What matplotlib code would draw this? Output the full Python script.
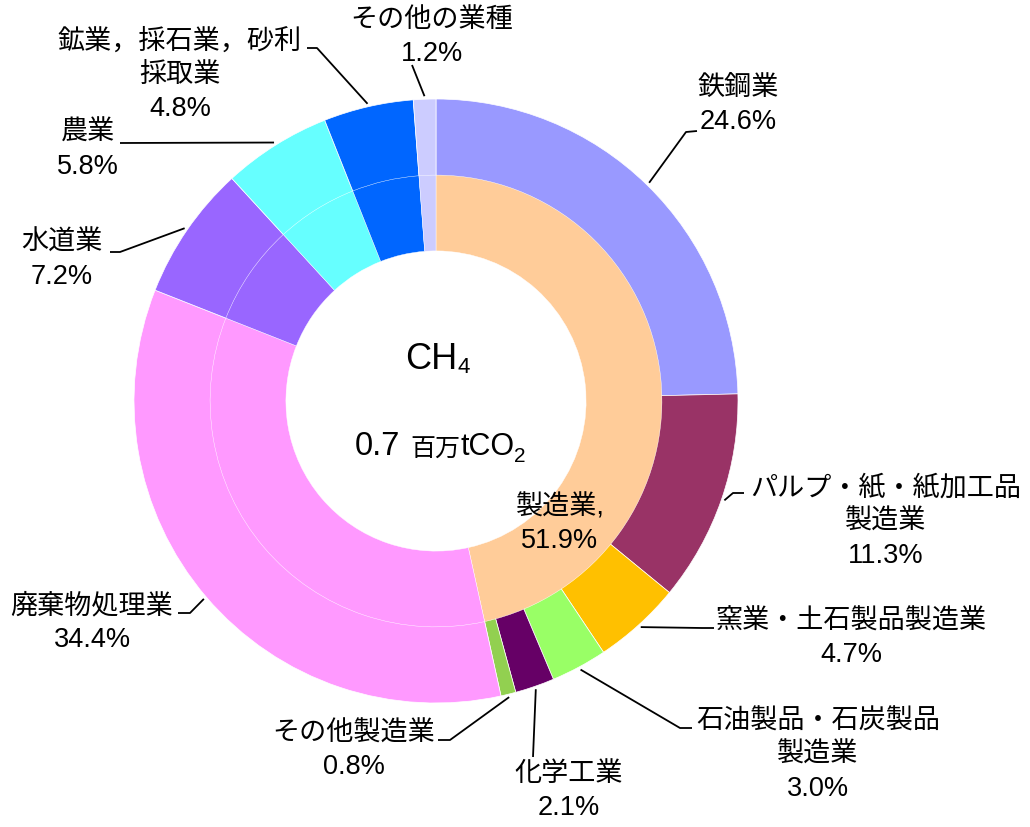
import numpy as np
import matplotlib
matplotlib.use("Agg")
import matplotlib.pyplot as plt

plt.rcParams['font.family'] = ['Liberation Sans', 'Noto Sans CJK JP', 'DejaVu Sans']

# ---------------- data ----------------
outer_names = ["鉄鋼業", "パルプ・紙・紙加工品\n製造業", "窯業・土石製品製造業",
               "石油製品・石炭製品\n製造業", "化学工業", "その他製造業",
               "廃棄物処理業", "水道業", "農業", "鉱業，採石業，砂利\n採取業", "その他の業種"]
outer_values = [24.6, 11.3, 4.7, 3.0, 2.1, 0.8, 34.4, 7.2, 5.8, 4.8, 1.2]
outer_colors = ["#9999FF", "#993366", "#FFC000", "#99FF66", "#660066", "#92D050",
                "#FF99FF", "#9966FF", "#66FFFF", "#0066FF", "#CCCCFF"]

n_manuf = 6
inner_names = ["製造業"] + outer_names[n_manuf:]
inner_values = [sum(outer_values[:n_manuf])] + outer_values[n_manuf:]
inner_colors = ["#FFCC99"] + outer_colors[n_manuf:]
manuf_share_label = "51.9%"

center_title = "CH"
center_title_sub = "4"
total_value = "0.7"
total_unit = "百万"
total_unit2 = "tCO"
total_unit_sub = "2"

# ---------------- layout (pixels) ----------------
W, H = 1030, 827
CX, CY = 436, 401
S = 302.0

def P(x, y):
    return ((x - CX) / S, (CY - y) / S)

# label block centers and leader path (points after the anchor)
label_pos = [(738, 105), (886, 522), (851, 638), (818, 755), (569, 791), (354, 750),
             (92, 623), (62, 260), (88, 150), (180, 75), (432, 37)]
leader_path = [
    [(686, 132), (697, 131)],
    [(733, 493), (744, 493)],
    [(702, 628), (714, 628)],
    [(680, 728), (692, 728)],
    [(533, 757)],
    [(450, 740), (438, 740)],
    [(190, 613), (178, 613)],
    [(120, 252), (110, 252)],
    [(120, 143)],
    [(317, 48), (307, 48)],
    [(412, 65)],
]

fig = plt.figure(figsize=(W / 100, H / 100), dpi=100)
ax = fig.add_axes([0, 0, 1, 1])

ax.pie(outer_values, radius=1.0, colors=outer_colors, startangle=90, counterclock=False,
       wedgeprops=dict(width=0.255, edgecolor='white', linewidth=0.5))
ax.pie(inner_values, radius=0.748, colors=inner_colors, startangle=90, counterclock=False,
       wedgeprops=dict(width=0.251, edgecolor='white', linewidth=0.3))

ax.set_xlim(-CX / S, (W - CX) / S)
ax.set_ylim(-(H - CY) / S, CY / S)
ax.set_aspect('auto')
ax.axis('off')

FS = 19.5
LS = 1.38
vals = np.array(outer_values, dtype=float)
cum = np.cumsum(vals) / vals.sum()
mids = 90 - 360 * (cum - vals / vals.sum() / 2)
for i, (name, v) in enumerate(zip(outer_names, outer_values)):
    a = np.deg2rad(mids[i])
    r = 1.01
    pts = [(r * np.cos(a), r * np.sin(a))] + [P(*p) for p in leader_path[i]]
    xs, ys = zip(*pts)
    ax.plot(xs, ys, color='black', lw=1.3, solid_capstyle='butt')
    tx, ty = P(*label_pos[i])
    ax.text(tx, ty, f"{name}\n{v:.1f}%", ha='center', va='center', fontsize=FS,
            linespacing=LS, color='black')

# inner manufacturing label
mx, my = P(560, 524)
ax.text(mx, my, f"{inner_names[0]},\n{manuf_share_label}", ha='center', va='center',
        fontsize=FS, linespacing=LS, color='black')

# center text
t1 = ax.text(*P(405, 369), center_title, ha='left', va='baseline', fontsize=26)
ax.annotate(center_title_sub, xy=(1, 0), xycoords=t1, xytext=(0, -1),
            textcoords='offset points', ha='left', va='bottom', fontsize=16)

t2 = ax.text(*P(355, 455), total_value, ha='left', va='baseline', fontsize=23.5)
t3 = ax.annotate(total_unit, xy=(1, 0), xycoords=t2, xytext=(7, 0),
                 textcoords='offset points', ha='left', va='bottom', fontsize=18)
t4 = ax.annotate(total_unit2, xy=(1, 0), xycoords=t3, xytext=(0, 0),
                 textcoords='offset points', ha='left', va='bottom', fontsize=22)
ax.annotate(total_unit_sub, xy=(1, 0), xycoords=t4, xytext=(0, -3),
            textcoords='offset points', ha='left', va='bottom', fontsize=15)

fig.savefig("out.png", dpi=100)
